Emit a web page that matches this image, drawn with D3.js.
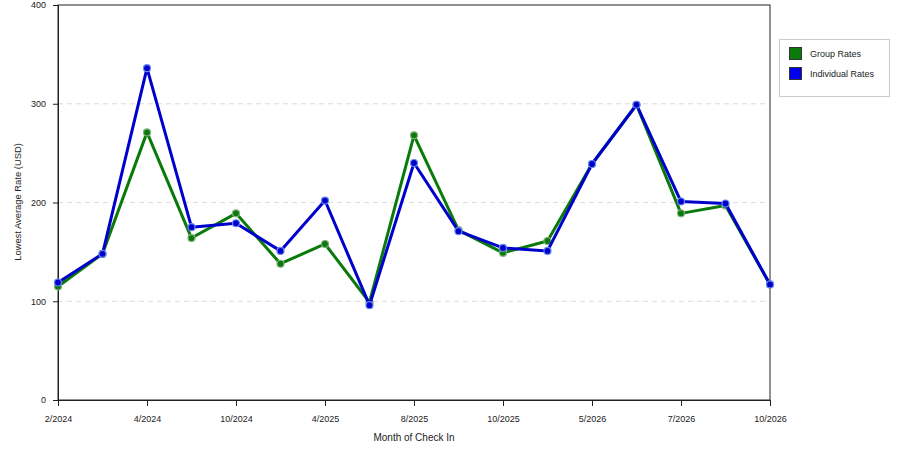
<!DOCTYPE html>
<html>
<head>
<meta charset="utf-8">
<script src="https://cdn.jsdelivr.net/npm/d3@7"></script>
<style>
  body { margin: 0; background: #fff; }
  text { font-family: "Liberation Sans", Arial, sans-serif; }
</style>
</head>
<body>
<div id="chart"></div>
<script>
const tick_labels = ["2/2024", "4/2024", "10/2024", "4/2025", "8/2025", "10/2025", "5/2026", "7/2026", "10/2026"];
const group_rates = [115, 148, 271, 164, 189, 138, 158, 99, 268, 172, 149, 161, 239, 299, 189, 197, 117];
const individual_rates = [119, 148, 336, 175, 179, 151, 202, 96, 240, 171, 154, 151, 239, 299, 201, 199, 117];
const series_names = ["Group Rates", "Individual Rates"];
const series_colors = ["#0a7a0a", "#0000cc"];
const y_ticks = [0, 100, 200, 300, 400];

const width = 900, height = 450;
const margin = {top: 5, right: 130, bottom: 50, left: 58};
const font = "Liberation Sans";

const x = d3.scalePoint()
  .domain(d3.range(group_rates.length))
  .range([margin.left, width - margin.right]);
const y = d3.scaleLinear()
  .domain([0, 400])
  .range([height - margin.bottom, margin.top]);

const svg = d3.select("#chart").append("svg")
  .attr("width", width)
  .attr("height", height);

// grid lines
svg.append("g")
  .selectAll("line")
  .data(y_ticks.filter(d => d > 0 && d < 400))
  .enter().append("line")
  .attr("x1", margin.left)
  .attr("x2", width - margin.right)
  .attr("y1", d => y(d))
  .attr("y2", d => y(d))
  .attr("stroke", "#dcdcdc")
  .attr("stroke-dasharray", "5,4");

// frame
svg.append("rect")
  .attr("x", margin.left)
  .attr("y", margin.top)
  .attr("width", width - margin.right - margin.left)
  .attr("height", height - margin.bottom - margin.top)
  .attr("fill", "none")
  .attr("stroke", "#222");

// axes
const xAxis = d3.axisBottom(x)
  .tickValues(d3.range(0, group_rates.length, 2))
  .tickFormat((d, i) => tick_labels[i])
  .tickSize(6)
  .tickPadding(10);
svg.append("g")
  .attr("transform", "translate(0," + (height - margin.bottom) + ")")
  .call(xAxis)
  .call(g => g.select(".domain").attr("stroke", "#222"))
  .call(g => g.selectAll(".tick line").attr("stroke", "#222"))
  .call(g => g.selectAll("text").attr("font-size", 9).attr("fill", "#222").attr("font-family", font));

const yAxis = d3.axisLeft(y)
  .tickValues(y_ticks)
  .tickSize(5)
  .tickPadding(7);
svg.append("g")
  .attr("transform", "translate(" + margin.left + ",0)")
  .call(yAxis)
  .call(g => g.select(".domain").attr("stroke", "#222"))
  .call(g => g.selectAll(".tick line").attr("stroke", "#222"))
  .call(g => g.selectAll("text").attr("font-size", 9).attr("fill", "#222").attr("font-family", font));

// axis titles
svg.append("text")
  .attr("x", 414)
  .attr("y", 441)
  .attr("text-anchor", "middle")
  .attr("font-size", 10)
  .attr("fill", "#222")
  .text("Month of Check In");
svg.append("text")
  .attr("transform", "translate(21,202) rotate(-90)")
  .attr("text-anchor", "middle")
  .attr("font-size", 9.4)
  .attr("fill", "#222")
  .text("Lowest Average Rate (USD)");

// series
const line = d3.line()
  .x((d, i) => x(i))
  .y(d => y(d));

[group_rates, individual_rates].forEach(function(values, s) {
  svg.append("path")
    .datum(values)
    .attr("d", line)
    .attr("fill", "none")
    .attr("stroke", series_colors[s])
    .attr("stroke-width", 3)
    .attr("stroke-linejoin", "round");
  svg.append("g")
    .selectAll("circle")
    .data(values)
    .enter().append("circle")
    .attr("cx", (d, i) => x(i))
    .attr("cy", d => y(d))
    .attr("r", 3.5)
    .attr("fill", series_colors[s])
    .attr("stroke", s === 0 ? "#7fb07f" : "#6688ee")
    .attr("stroke-width", 1.2);
});

// legend
const legend = svg.append("g");
legend.append("rect")
  .attr("x", 779.5)
  .attr("y", 39.5)
  .attr("width", 110)
  .attr("height", 57)
  .attr("fill", "#fff")
  .attr("stroke", "#ccc");
series_names.forEach(function(name, i) {
  legend.append("rect")
    .attr("x", 789.5)
    .attr("y", 47.5 + i * 20)
    .attr("width", 12)
    .attr("height", 12)
    .attr("fill", i === 0 ? "#0a7a0a" : "#0000ee")
    .attr("stroke", "#333");
  legend.append("text")
    .attr("x", 810)
    .attr("y", 57 + i * 20)
    .attr("font-size", 9)
    .attr("fill", "#222")
    .text(name);
});
</script>
</body>
</html>
